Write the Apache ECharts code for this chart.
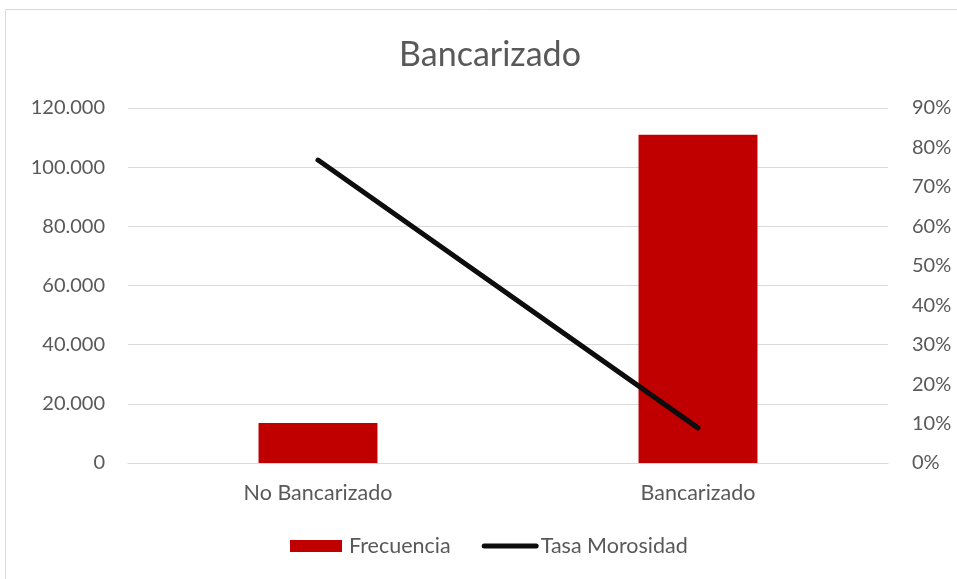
<!DOCTYPE html>
<html>
<head>
<meta charset="utf-8">
<script src="https://cdn.jsdelivr.net/npm/echarts@6/dist/echarts.min.js"></script>
<style>
  html, body { margin: 0; padding: 0; background: #fff; }
  #chart { width: 957px; height: 579px; }
</style>
</head>
<body>
<div id="chart"></div>
<script>
// Categories and series values
const categories = ['No Bancarizado', 'Bancarizado'];
const frecuencia = [13500, 111000];
const tasaMorosidad = [0.768, 0.089];

// Axis ranges
const leftMax = 120000, leftInterval = 20000;
const rightMax = 0.9, rightInterval = 0.1;

const FONT = 'Lato, "Noto Sans", sans-serif';
const TEXT = '#595959';
const LABEL_SIZE = 21.5;
const TICK_SIZE = 20;

const chart = echarts.init(document.getElementById('chart'));

function fmtThousands(v) {
  return String(v).replace(/\B(?=(\d{3})+(?!\d))/g, '.');
}

// legend keys: both drawn in a 57x12 box
const barKey = 'path://M0,0 M57,12 M0,0 H52 V12 H0 Z';
const lineKey = 'path://M0,0 M57,12 M2.5,3.5 H54.5 A2.5,2.5 0 0 1 54.5,8.5 H2.5 A2.5,2.5 0 0 1 2.5,3.5 Z';

chart.setOption({
  animation: false,
  backgroundColor: '#fff',
  graphic: [
    {
      type: 'rect',
      shape: { x: 5.5, y: 9.5, width: 960, height: 580 },
      style: { fill: 'none', stroke: '#d9d9d9', lineWidth: 1 },
      silent: true
    },
    {
      type: 'text',
      x: 490,
      y: 55,
      style: {
        text: 'Bancarizado',
        fontFamily: FONT,
        fontSize: 34,
        fill: TEXT,
        textAlign: 'center',
        textVerticalAlign: 'middle'
      },
      silent: true
    }
  ],
  legend: {
    top: 535,
    left: 290,
    padding: 0,
    itemGap: 31,
    itemWidth: 57,
    itemHeight: 12,
    textStyle: { fontFamily: FONT, fontSize: LABEL_SIZE, color: TEXT, padding: [0, 0, 0, -3] },
    data: [
      { name: 'Frecuencia', icon: barKey },
      { name: 'Tasa Morosidad', icon: lineKey, itemStyle: { color: '#0d0d0d' } }
    ]
  },
  grid: { left: 128, right: 69, top: 108, bottom: 116, outerBoundsMode: 'none', containLabel: false },
  xAxis: {
    type: 'category',
    data: categories,
    axisLine: { lineStyle: { color: '#d9d9d9', width: 1 } },
    axisTick: { show: false },
    axisLabel: { fontFamily: FONT, fontSize: LABEL_SIZE, color: TEXT, margin: 19 }
  },
  yAxis: [
    {
      type: 'value',
      min: 0,
      max: leftMax,
      interval: leftInterval,
      axisLine: { show: false },
      axisTick: { show: false },
      splitLine: { lineStyle: { color: '#d9d9d9', width: 1 } },
      axisLabel: {
        fontFamily: FONT, fontSize: TICK_SIZE, color: TEXT, margin: 23,
        formatter: v => fmtThousands(v)
      }
    },
    {
      type: 'value',
      min: 0,
      max: rightMax,
      interval: rightInterval,
      axisLine: { show: false },
      axisTick: { show: false },
      splitLine: { show: false },
      axisLabel: {
        fontFamily: FONT, fontSize: TICK_SIZE, color: TEXT, margin: 24,
        formatter: v => Math.round(v * 100) + '%'
      }
    }
  ],
  series: [
    {
      name: 'Frecuencia',
      type: 'bar',
      data: frecuencia,
      barWidth: '31.3%',
      itemStyle: { color: '#c00000' },
      yAxisIndex: 0
    },
    {
      name: 'Tasa Morosidad',
      type: 'line',
      data: tasaMorosidad,
      yAxisIndex: 1,
      symbol: 'none',
      lineStyle: { color: '#0d0d0d', width: 5, cap: 'round' },
      itemStyle: { color: '#0d0d0d' }
    }
  ]
});
</script>
</body>
</html>
